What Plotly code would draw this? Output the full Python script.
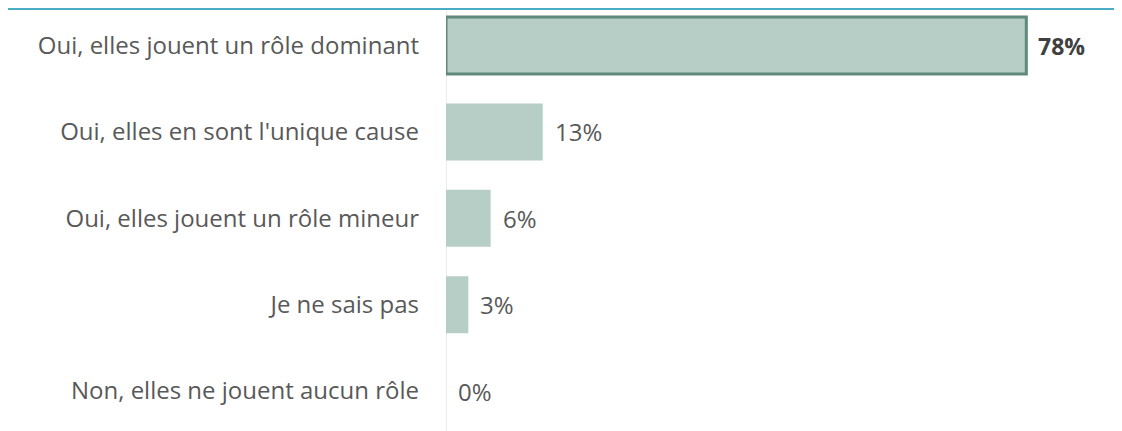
import plotly.graph_objects as go

categories = [
    "Oui, elles jouent un rôle dominant",
    "Oui, elles en sont l'unique cause",
    "Oui, elles jouent un rôle mineur",
    "Je ne sais pas",
    "Non, elles ne jouent aucun rôle",
]
values = [78, 13, 6, 3, 0]
value_labels = ["78%", "13%", "6%", "3%", "0%"]

FONT = "'Open Sans', sans-serif"
fill = "#B7CEC6"
border = "#5F8A7B"

W, H = 1114, 423
L = 438
PW = W - L

fig = go.Figure()
fig.add_trace(go.Bar(
    x=values, y=categories, orientation="h",
    width=0.66,
    marker=dict(color=fill,
                line=dict(color=[border if i == 0 else fill for i in range(len(values))],
                          width=[3 if i == 0 else 0 for i in range(len(values))])),
    hoverinfo="skip",
))

for i, (v, lab) in enumerate(zip(values, value_labels)):
    fig.add_annotation(
        x=v, y=categories[i], xref="x", yref="y",
        text=f"<b>{lab}</b>" if i == 0 else lab,
        showarrow=False, xanchor="left", xshift=10,
        font=dict(family=FONT, size=24 if i else 23, color="#404040" if i == 0 else "#595959"),
    )

fig.add_shape(type="line", xref="paper", yref="paper",
              x0=(0 - L) / PW, x1=1.0, y0=1 - 1 / H, y1=1 - 1 / H,
              line=dict(color="#4BACC6", width=2))
fig.add_shape(type="line", xref="x", yref="paper",
              x0=0, x1=0, y0=0, y1=1 - 3 / H,
              line=dict(color="#D9D9D9", width=1), layer="below")

fig.update_layout(
    width=W, height=H,
    margin=dict(l=L, r=0, t=0, b=0),
    paper_bgcolor="white", plot_bgcolor="white",
    showlegend=False,
    xaxis=dict(range=[0, PW / 7.44], visible=False, fixedrange=True),
    yaxis=dict(
        type="category", categoryorder="array", categoryarray=categories,
        range=[4.462, -0.434],
        showgrid=False, showline=False, zeroline=False,
        ticks="", ticklabelstandoff=26,
        tickfont=dict(family=FONT, size=24, color="#595959"),
    ),
)

fig.write_html("out.html")
